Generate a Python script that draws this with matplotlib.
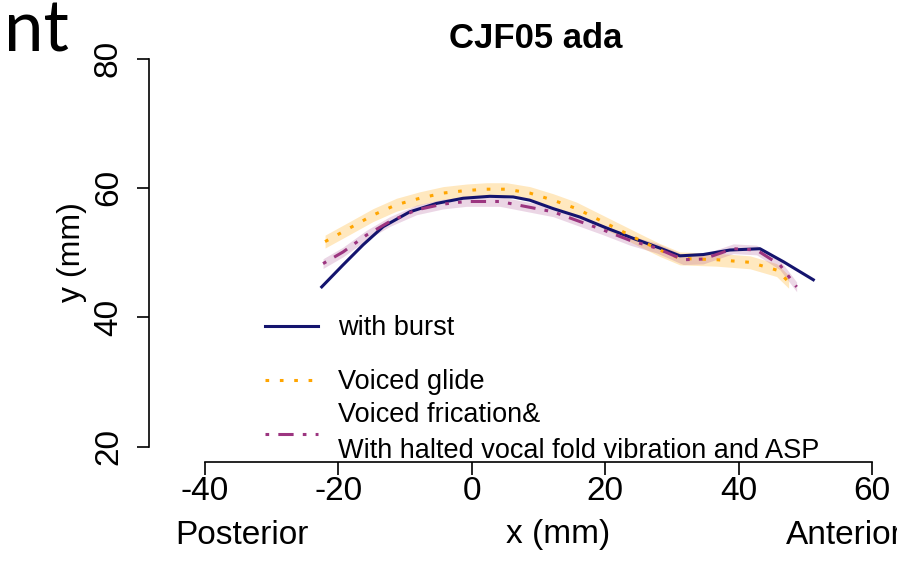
import matplotlib
matplotlib.use("Agg")
import matplotlib.pyplot as plt

plt.rcParams['font.family'] = ['Liberation Sans', 'DejaVu Sans']

# tongue contours (x, y in mm)
burst_x = [-22.5, -19.3, -16.3, -13.3, -9.3, -5.3, -1.3, 2.7, 6.2, 8.7, 12.2, 16.2,
           20.2, 24.2, 28.2, 31.2, 34.7, 38.7, 43.2, 46.7, 51.2]
burst_y = [44.7, 48.1, 51.2, 54.0, 56.3, 57.6, 58.4, 58.7, 58.6, 58.1, 56.8, 55.5,
           53.8, 52.2, 50.7, 49.5, 49.7, 50.4, 50.6, 48.6, 45.8]

glide_x = [-22.0, -18.3, -14.8, -11.3, -7.8, -4.3, -0.8, 2.2, 5.2, 8.7, 12.2, 15.7,
           19.2, 22.7, 26.2, 28.2, 31.2, 36.7, 41.7, 45.7, 47.5]
glide_y = [51.7, 53.8, 55.8, 57.4, 58.4, 59.2, 59.6, 59.8, 59.8, 59.2, 58.1, 56.8,
           55.0, 53.2, 51.4, 50.4, 49.1, 48.9, 48.5, 47.3, 45.5]
glide_se = 1.0

fric_x = [-22.3, -19.3, -15.8, -12.3, -8.3, -4.3, -0.8, 1.7, 4.2, 8.2, 12.2, 16.2,
          19.7, 23.7, 27.7, 31.7, 34.7, 39.2, 42.7, 46.2, 48.7]
fric_y = [48.3, 50.1, 52.7, 54.8, 56.6, 57.5, 57.9, 57.9, 57.9, 57.1, 56.3, 54.8,
          53.5, 51.9, 50.7, 48.9, 49.0, 50.6, 50.4, 48.1, 44.7]
fric_se = 0.75

x_ticks = [-40, -20, 0, 20, 40, 60]
y_ticks = [20, 40, 60, 80]

navy = '#14146e'
orange = '#ffa500'
purple = '#9c3580'

W, H = 897, 579
fig = plt.figure(figsize=(W / 100, H / 100), dpi=100)
ax = fig.add_axes([0, 0, 1, 1])
ax.patch.set_alpha(0)

# pixel mapping of the original plot region
ax.set_xlim(-40 - 205 / 6.67, -40 + (W - 205) / 6.67)
ax.set_ylim(80 - (H - 58.5) / 6.47, 80 + 58.5 / 6.47)

ax.fill_between(glide_x, [v - glide_se for v in glide_y], [v + glide_se for v in glide_y],
                color=orange, alpha=0.25, lw=0)
ax.fill_between(fric_x, [v - fric_se for v in fric_y], [v + fric_se for v in fric_y],
                color=purple, alpha=0.2, lw=0)

l1, = ax.plot(burst_x, burst_y, color=navy, lw=2.2, label='with burst')
l2, = ax.plot(glide_x, glide_y, color=orange, lw=2.2, dashes=(1.2, 3.5), label='Voiced glide')
l3, = ax.plot(fric_x, fric_y, color=purple, lw=2.2, dashes=(1.2, 3, 5, 3, 1.2, 3),
              label='Voiced frication&\nWith halted vocal fold vibration and ASP')

for s in ['top', 'right']:
    ax.spines[s].set_visible(False)
ax.spines['left'].set_position(('data', -40 - 56 / 6.67))
ax.spines['bottom'].set_position(('data', 80 - 403.5 / 6.47))
ax.spines['left'].set_bounds(20, 80)
ax.spines['bottom'].set_bounds(-40, 60)
ax.spines['left'].set_linewidth(1.2)
ax.spines['bottom'].set_linewidth(1.2)

ax.set_xticks(x_ticks)
ax.set_yticks(y_ticks)
ax.set_xticklabels([str(v) for v in x_ticks])
ax.set_yticklabels([str(v) for v in y_ticks], rotation=90, va='center')
ax.tick_params(axis='both', direction='out', length=9, width=1.2, labelsize=24)
ax.tick_params(axis='x', pad=1)
ax.tick_params(axis='y', pad=9)

leg_kw = dict(loc='upper left', bbox_transform=fig.transFigure, frameon=False,
              fontsize=19.5, handlelength=1.95, handletextpad=0.75, borderpad=0,
              borderaxespad=0)
leg1 = ax.legend(handles=[l1, l2], bbox_to_anchor=(265 / W, 1 - 315 / H),
                 labelspacing=1.05, **leg_kw)
ax.add_artist(leg1)
leg2 = ax.legend(handles=[l3], bbox_to_anchor=(265 / W, 1 - 402 / H), **leg_kw)
leg2.get_texts()[0].set_linespacing(1.5)

fig.text(536 / W, 1 - 38 / H, 'CJF05 ada', ha='center', va='center',
         fontsize=25, fontweight='bold')
fig.text(72 / W, 1 - 252 / H, 'y (mm)', ha='center', va='center', rotation=90, fontsize=23)
fig.text(242 / W, 1 - 535 / H, 'Posterior', ha='center', va='center', fontsize=24)
fig.text(558 / W, 1 - 535 / H, 'x (mm)', ha='center', va='center', fontsize=24)
fig.text(786 / W, 1 - 535 / H, 'Anterior', ha='left', va='center', fontsize=24)
fig.text(4 / W, 1 - 52 / H, 'nt', ha='left', va='baseline', fontsize=51,
         family=['Lato', 'DejaVu Sans'])

fig.savefig('out.png', dpi=100)
